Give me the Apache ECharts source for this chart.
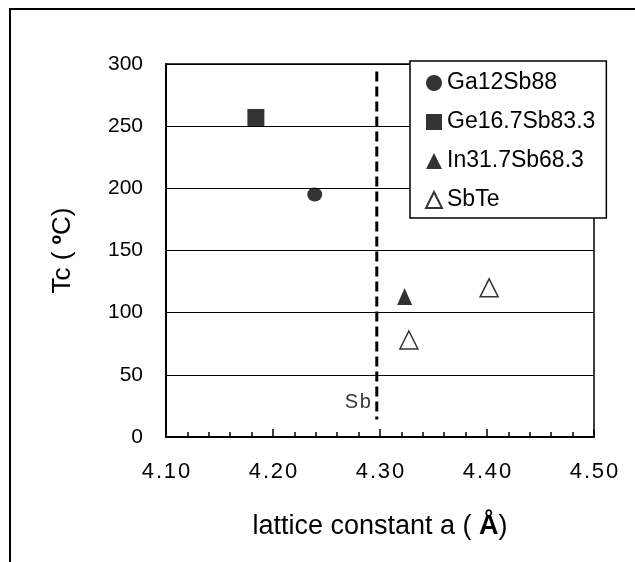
<!DOCTYPE html>
<html>
<head>
<meta charset="utf-8">
<script src="https://cdn.jsdelivr.net/npm/echarts@6/dist/echarts.min.js"></script>
<style>html,body{margin:0;padding:0;background:#fff}#c{width:635px;height:562px}</style>
</head>
<body>
<div id="c"></div>
<script>
// Data
const seriesNames = ['Ga12Sb88', 'Ge16.7Sb83.3', 'In31.7Sb68.3', 'SbTe'];
const gaSb = [[4.239, 195]];
const geSb = [[4.184, 257]];
const inSb = [[4.323, 113]];
const sbTe = [[4.327, 78], [4.402, 120]];
const sbLine = [[4.297, 294], [4.297, 14]];
const sbLabelPoint = [[4.297, 28]];
const sbLabelText = 'S\u200Ab';
const xMin = 4.10, xMax = 4.50, xStep = 0.10;
const yMin = 0, yMax = 300, yStep = 50;

const FONT = '"Liberation Sans", Arial, sans-serif';
const chart = echarts.init(document.getElementById('c'), null, {renderer: 'canvas'});
chart.setOption({
  animation: false,
  backgroundColor: '#fff',
  textStyle: {fontFamily: FONT, color: '#000'},
  graphic: [{
    type: 'rect', z: -10, silent: true,
    shape: {x: 10, y: 9, width: 800, height: 800},
    style: {fill: 'none', stroke: '#000', lineWidth: 2}
  }],
  grid: {left: 166, right: 41, top: 64, bottom: 125, show: true, borderColor: '#000', borderWidth: 1.5, backgroundColor: 'transparent'},
  legend: {
    orient: 'vertical', left: 410, top: 61,
    padding: [10, 11, 6, 15], itemGap: 15, itemWidth: 16, itemHeight: 16,
    backgroundColor: '#fff', borderColor: '#000', borderWidth: 1.5,
    textStyle: {fontFamily: FONT, fontSize: 23, lineHeight: 24, color: '#000'},
    data: [
      {name: seriesNames[0], icon: 'circle'},
      {name: seriesNames[1], icon: 'rect'},
      {name: seriesNames[2], icon: 'triangle'},
      {name: seriesNames[3], icon: 'triangle'}
    ],
    z: 10
  },
  xAxis: {
    type: 'value', min: xMin, max: xMax, interval: xStep,
    name: 'lattice constant a ( {b|Å})', nameLocation: 'middle', nameGap: 76,
    nameTextStyle: {fontFamily: FONT, fontSize: 27, color: '#000', rich: {b: {fontFamily: FONT, fontSize: 27, fontWeight: 'bold', color: '#000'}}},
    axisLine: {show: true, lineStyle: {color: '#000', width: 2}},
    axisTick: {show: true, inside: true, length: 8, lineStyle: {color: '#000', width: 1.5}},
    minorTick: {show: true, splitNumber: 5, length: 5, lineStyle: {color: '#000', width: 1.5}},
    axisLabel: {fontFamily: FONT, fontSize: 22, color: '#000', margin: 24,
      formatter: v => v.toFixed(2).split('').join('\u200A')},
    splitLine: {show: false}
  },
  yAxis: {
    type: 'value', min: yMin, max: yMax, interval: yStep,
    name: 'Tc ( {b|º}C)', nameLocation: 'middle', nameGap: 90,
    nameTextStyle: {fontFamily: FONT, fontSize: 26, color: '#000', rich: {b: {fontFamily: FONT, fontSize: 26, fontWeight: 'bold', color: '#000'}}},
    axisLine: {show: true, lineStyle: {color: '#000', width: 2}},
    axisTick: {show: false},
    axisLabel: {fontFamily: FONT, fontSize: 21, color: '#000', margin: 23},
    splitLine: {show: true, lineStyle: {color: '#000', width: 1.2}}
  },
  series: [
    {name: 'Sb', type: 'line', data: sbLine, showSymbol: false, symbol: 'none',
      lineStyle: {color: '#000', width: 3, type: [10, 5]}, z: 3, silent: true},
    {name: 'SbLabel', type: 'scatter', data: sbLabelPoint, symbolSize: 0, silent: true,
      label: {show: true, position: 'left', distance: 6, formatter: sbLabelText, fontFamily: FONT, fontSize: 20, color: '#000'}},
    {name: seriesNames[0], type: 'scatter', data: gaSb, symbol: 'circle', symbolSize: [15, 14],
      itemStyle: {color: '#000'}, z: 4},
    {name: seriesNames[1], type: 'scatter', data: geSb, symbol: 'rect', symbolSize: 17,
      itemStyle: {color: '#000'}, z: 4},
    {name: seriesNames[2], type: 'scatter', data: inSb, symbol: 'triangle', symbolSize: [15, 17],
      itemStyle: {color: '#000'}, z: 4},
    {name: seriesNames[3], type: 'scatter', data: sbTe, symbol: 'triangle', symbolSize: [18, 18],
      itemStyle: {color: '#fff', borderColor: '#000', borderWidth: 1.5}, z: 4}
  ]
});
</script>
</body>
</html>
